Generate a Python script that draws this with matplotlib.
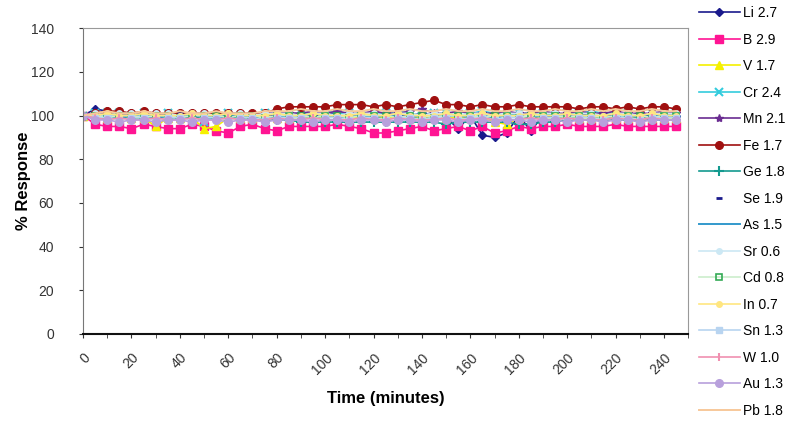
import matplotlib
matplotlib.use("Agg")
import matplotlib.pyplot as plt
from matplotlib.ticker import MultipleLocator

plt.rcParams['font.family'] = ['Liberation Sans', 'DejaVu Sans']

time_min = [0, 5, 10, 15, 20, 25, 30, 35, 40, 45,
            50, 55, 60, 65, 70, 75, 80, 85, 90, 95,
            100, 105, 110, 115, 120, 125, 130, 135, 140, 145,
            150, 155, 160, 165, 170, 175, 180, 185, 190, 195,
            200, 205, 210, 215, 220, 225, 230, 235, 240, 245]

li = [100, 103, 102, 101, 101, 100, 101, 100, 101, 100,
      100, 101, 100, 100, 101, 100, 100, 101, 101, 100,
      101, 101, 100, 100, 101, 100, 100, 100, 101, 100,
      99, 94, 100, 91, 90, 92, 100, 93, 100, 99,
      100, 101, 100, 100, 100, 101, 100, 100, 100, 100]
b = [100, 96, 95, 95, 94, 96, 95, 94, 94, 96,
     95, 93, 92, 95, 96, 94, 93, 95, 95, 95,
     95, 96, 95, 94, 92, 92, 93, 94, 95, 93,
     94, 95, 93, 95, 92, 93, 95, 94, 95, 95,
     96, 95, 95, 95, 96, 95, 95, 95, 95, 95]
v = [100, 100, 99, 99, 99, 99, 95, 99, 99, 99,
     94, 95, 99, 99, 99, 100, 99, 99, 99, 99,
     99, 100, 99, 99, 99, 99, 99, 99, 99, 99,
     99, 99, 99, 99, 97, 96, 99, 99, 99, 99,
     99, 99, 99, 99, 99, 99, 99, 99, 99, 99]
cr = [100, 101, 101, 101, 100, 101, 100, 101, 100, 100,
      97, 100, 101, 100, 100, 101, 101, 100, 101, 101,
      102, 101, 101, 100, 101, 101, 102, 101, 100, 101,
      101, 100, 101, 102, 101, 100, 101, 101, 101, 100,
      101, 101, 102, 101, 101, 101, 100, 101, 101, 101]
mn = [100, 101, 101, 100, 101, 101, 100, 101, 100, 101,
      101, 100, 101, 101, 100, 101, 102, 101, 101, 102,
      101, 102, 101, 101, 102, 101, 101, 102, 103, 101,
      101, 102, 101, 101, 101, 102, 101, 101, 102, 101,
      101, 102, 101, 101, 102, 101, 101, 101, 102, 101]
fe = [100, 101, 102, 102, 101, 102, 101, 101, 101, 101,
      101, 101, 101, 101, 101, 101, 103, 104, 104, 104,
      104, 105, 105, 105, 104, 105, 104, 105, 106, 107,
      105, 105, 104, 105, 104, 104, 105, 104, 104, 104,
      104, 103, 104, 104, 103, 104, 103, 104, 104, 103]
ge = [100, 99, 99, 99, 99, 99, 99, 99, 99, 99,
      99, 99, 99, 99, 99, 98, 98, 98, 97, 97,
      97, 97, 97, 97, 97, 97, 97, 97, 97, 97,
      96, 97, 97, 97, 97, 97, 96, 96, 97, 97,
      98, 98, 98, 98, 98, 98, 98, 98, 98, 98]
se = [100, 100, 100, 101, 100, 100, 100, 100, 101, 100,
      100, 100, 101, 100, 100, 100, 101, 100, 100, 101,
      100, 100, 101, 100, 100, 101, 100, 100, 101, 100,
      100, 100, 101, 100, 100, 100, 101, 100, 100, 101,
      100, 100, 101, 100, 100, 100, 101, 100, 100, 100]
as_ = [100, 99, 100, 99, 100, 100, 99, 100, 99, 100,
       100, 99, 100, 100, 99, 100, 99, 100, 100, 99,
       100, 99, 100, 100, 99, 100, 100, 99, 100, 99,
       100, 100, 99, 100, 99, 100, 100, 99, 100, 100,
       99, 100, 100, 99, 100, 100, 99, 100, 100, 100]
sr = [100, 101, 100, 101, 101, 100, 101, 101, 100, 101,
      101, 100, 101, 101, 100, 101, 101, 101, 100, 101,
      101, 100, 101, 101, 101, 100, 101, 101, 100, 101,
      101, 100, 101, 101, 100, 101, 101, 100, 101, 101,
      100, 101, 101, 100, 101, 101, 100, 101, 101, 101]
cd = [100, 100, 99, 100, 100, 99, 100, 100, 99, 100,
      100, 100, 99, 100, 100, 99, 100, 100, 100, 99,
      100, 100, 99, 100, 100, 100, 99, 100, 100, 99,
      100, 100, 100, 99, 100, 100, 99, 100, 100, 100,
      99, 100, 100, 99, 100, 100, 100, 99, 100, 100]
in_ = [100, 100, 101, 100, 100, 101, 100, 100, 100, 101,
       100, 100, 101, 100, 100, 100, 101, 100, 100, 101,
       100, 100, 100, 101, 100, 100, 101, 100, 100, 100,
       101, 100, 100, 101, 100, 100, 100, 101, 100, 100,
       101, 100, 100, 100, 101, 100, 100, 101, 100, 100]
sn = [100, 99, 99, 98, 99, 99, 98, 99, 99, 98,
      99, 99, 98, 99, 99, 98, 99, 99, 99, 98,
      99, 99, 98, 99, 99, 98, 99, 99, 98, 99,
      99, 98, 99, 99, 98, 99, 99, 98, 99, 99,
      98, 99, 99, 98, 99, 99, 98, 99, 99, 99]
w = [100, 99, 98, 99, 98, 98, 99, 98, 98, 99,
     98, 98, 99, 98, 98, 98, 99, 98, 98, 99,
     98, 98, 98, 99, 98, 98, 99, 98, 98, 98,
     99, 98, 98, 99, 98, 98, 98, 99, 98, 98,
     99, 98, 98, 98, 99, 98, 98, 99, 98, 98]
au = [100, 98, 98, 97, 98, 98, 97, 98, 98, 97,
      98, 98, 97, 98, 98, 97, 98, 98, 98, 97,
      98, 98, 97, 98, 98, 97, 98, 98, 97, 98,
      98, 97, 98, 98, 97, 98, 98, 97, 98, 98,
      97, 98, 98, 97, 98, 98, 97, 98, 98, 98]
pb = [100, 101, 102, 101, 101, 102, 101, 101, 102, 101,
      101, 102, 101, 101, 101, 102, 102, 102, 103, 102,
      102, 103, 102, 102, 103, 102, 102, 103, 102, 102,
      103, 102, 102, 103, 102, 102, 103, 102, 102, 103,
      102, 102, 103, 102, 103, 102, 102, 103, 102, 102]

labels = ["Li 2.7", "B 2.9", "V 1.7", "Cr 2.4", "Mn 2.1", "Fe 1.7", "Ge 1.8", "Se 1.9",
          "As 1.5", "Sr 0.6", "Cd 0.8", "In 0.7", "Sn 1.3", "W 1.0", "Au 1.3", "Pb 1.8"]
series = [li, b, v, cr, mn, fe, ge, se, as_, sr, cd, in_, sn, w, au, pb]

styles = [
    dict(color='#1a1a8c', marker='D', ms=4.5, lw=1.2),
    dict(color='#ff1493', marker='s', ms=5.5, lw=1.2),
    dict(color='#f5f000', marker='^', ms=5.5, lw=1.2),
    dict(color='#33ccdd', marker='x', ms=5.5, mew=1.5, lw=1.2),
    dict(color='#6a2c91', marker='*', ms=6, lw=1.2),
    dict(color='#a01010', marker='o', ms=5.5, lw=1.2),
    dict(color='#139a8f', marker='+', ms=7, mew=1.5, lw=1.2),
    dict(color='#1a1a8c', marker='_', ms=5, mew=2, lw=0),
    dict(color='#3399cc', marker='', lw=1.4),
    dict(color='#cce8f4', marker='o', ms=4, lw=1.2),
    dict(color='#cceecc', marker='s', ms=5, mfc='none', mec='#33aa55', mew=1.2, lw=1.2),
    dict(color='#ffe680', marker='o', ms=4, lw=1.2),
    dict(color='#b8d4f0', marker='s', ms=4.5, lw=1.2),
    dict(color='#f090b0', marker='|', ms=6, mew=1.5, lw=1.2),
    dict(color='#b8a0dc', marker='o', ms=5.5, lw=1.2),
    dict(color='#f7c89a', marker='', lw=1.4),
]

fig = plt.figure(figsize=(7.91, 4.21), dpi=100)
ax = fig.add_axes([0.105, 0.207, 0.765, 0.726])

for vals, lab, st in zip(series, labels, styles):
    ax.plot(time_min, vals, label=lab, **st)

ax.set_xlim(0, 250)
ax.set_ylim(0, 140)
ax.yaxis.set_major_locator(MultipleLocator(20))
ax.xaxis.set_major_locator(MultipleLocator(20))
ax.xaxis.set_minor_locator(MultipleLocator(10))
ax.tick_params(axis='x', which='both', direction='out', length=3, colors='#333333',
               labelsize=10, pad=9)
ax.tick_params(axis='y', direction='out', length=3, colors='#333333', labelsize=10, pad=18)
for lab in ax.get_xticklabels():
    lab.set_rotation(45)
    lab.set_ha('right')
    lab.set_rotation_mode('anchor')
for s in ['top', 'right']:
    ax.spines[s].set_color('#999999')
ax.spines['left'].set_color('#777777')
ax.spines['bottom'].set_color('#111111')
ax.spines['bottom'].set_linewidth(1.5)

ax.set_xlabel('Time (minutes)', fontsize=12, fontweight='bold', labelpad=10)
ax.set_ylabel('% Response', fontsize=12, fontweight='bold', labelpad=0)

fig.legend(loc='upper left', bbox_to_anchor=(0.878, 0.995), frameon=False, fontsize=10,
           handlelength=3.0, handletextpad=0.2, labelspacing=0.9, borderpad=0.3,
           borderaxespad=0)

fig.savefig('out.png', dpi=100)
